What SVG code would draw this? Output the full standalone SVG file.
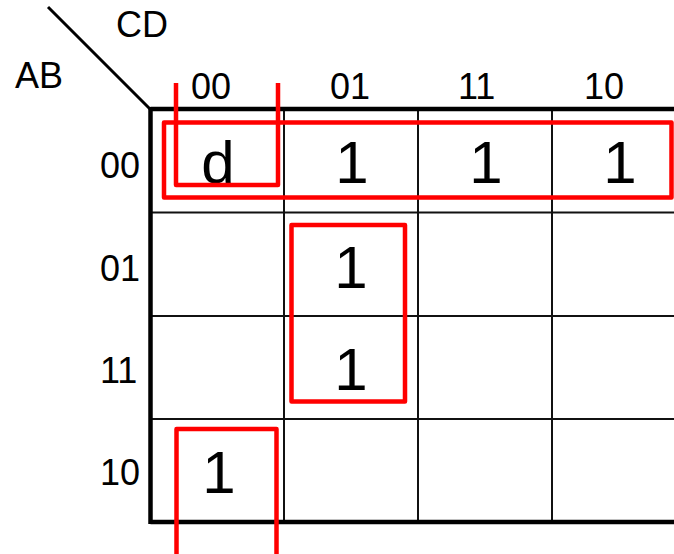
<svg xmlns="http://www.w3.org/2000/svg" width="674" height="554" viewBox="0 0 674 554">
  <style>
    .lbl { font-family: "Liberation Sans", Arial, sans-serif; font-size: 36px; fill: #000; }
    .val { font-family: "Liberation Sans", Arial, sans-serif; font-size: 60px; fill: #000; text-anchor: middle; }
    .thin { stroke: #111; stroke-width: 2; fill: none; }
    .thick { stroke: #000; stroke-width: 4.5; fill: none; }
    .grp { stroke: #ff0000; stroke-width: 4.5; fill: none; stroke-linejoin: round; }
  </style>
  <rect width="674" height="554" fill="#ffffff"/>
  <g id="grid">
    <line class="thin" x1="284" y1="109" x2="284" y2="522"/>
    <line class="thin" x1="418" y1="109" x2="418" y2="522"/>
    <line class="thin" x1="552" y1="109" x2="552" y2="522"/>
    <line class="thin" x1="150" y1="212.5" x2="674" y2="212.5"/>
    <line class="thin" x1="150" y1="316" x2="674" y2="316"/>
    <line class="thin" x1="150" y1="419" x2="674" y2="419"/>
    <line class="thick" x1="150.5" y1="109" x2="674" y2="109"/>
    <line class="thick" x1="150.5" y1="522" x2="674" y2="522"/>
    <line class="thick" x1="150.5" y1="107" x2="150.5" y2="524"/>
    <line stroke="#000" stroke-width="3" x1="48" y1="7" x2="151" y2="110"/>
  </g>
  <g id="axis-labels">
    <text class="lbl" x="116" y="37">CD</text>
    <text class="lbl" x="15" y="88">AB</text>
    <text class="lbl" x="191" y="99">00</text>
    <text class="lbl" x="330" y="99">01</text>
    <text class="lbl" x="458" y="99">11</text>
    <text class="lbl" x="584" y="99">10</text>
    <text class="lbl" x="100" y="178">00</text>
    <text class="lbl" x="100" y="281">01</text>
    <text class="lbl" x="100" y="383">11</text>
    <text class="lbl" x="100" y="485">10</text>
  </g>
  <g id="cells">
    <text class="val" x="218" y="183">d</text>
    <text class="val" x="352" y="183">1</text>
    <text class="val" x="486" y="183">1</text>
    <text class="val" x="620" y="183">1</text>
    <text class="val" x="351" y="288">1</text>
    <text class="val" x="351" y="390">1</text>
    <text class="val" x="219" y="493">1</text>
  </g>
  <g id="groups">
    <rect class="grp" x="164" y="122.5" width="507.5" height="75"/>
    <path class="grp" d="M176,83 V185 H278 V83"/>
    <rect class="grp" x="291.5" y="225" width="113.5" height="176.5"/>
    <path class="grp" d="M176.5,554 V429 H276.5 V554"/>
  </g>
</svg>
